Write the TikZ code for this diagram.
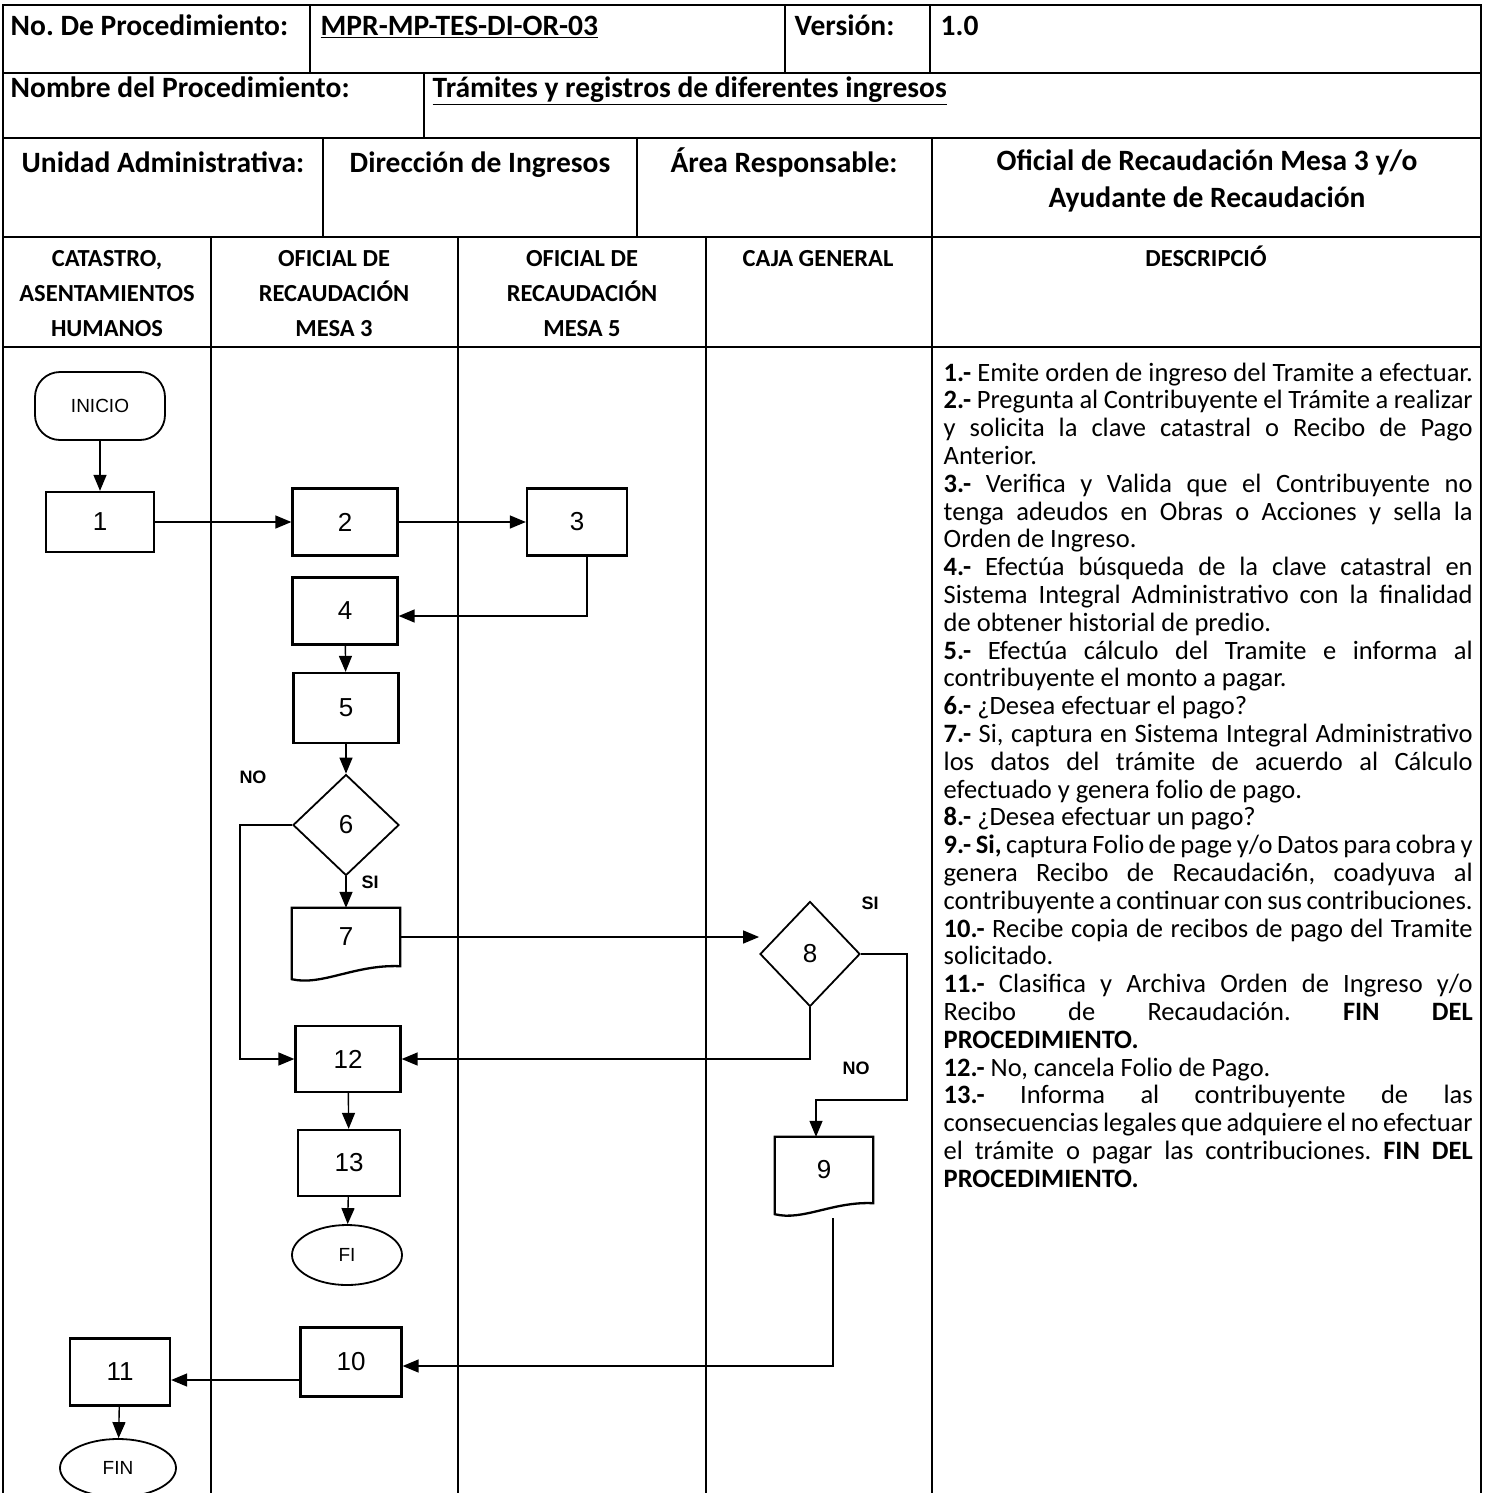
\documentclass[tikz,border=0pt]{standalone}
\usepackage{fontspec}
\setmainfont{Carlito}
\newfontfamily\arialfont{Liberation Sans}
\usetikzlibrary{arrows.meta,shapes.geometric}
\frenchspacing

\newcommand\justline[1]{\makebox[529pt][s]{#1}}
\newcommand\descspacing{\spaceskip=0.18em plus 0.4em minus 0.07em\relax}

\tikzset{every picture/.style={line width=1.4pt}}
\tikzset{
  grid/.style={line width=1.9pt},
  lane/.style={line width=1.5pt},
  hdr/.style={inner sep=0pt, font=\bfseries\fontsize{29.5}{36}\selectfont},
  lanehdr/.style={inner sep=0pt, align=center, font=\bfseries\fontsize{24.5}{35}\selectfont},
  stepbox/.style={draw, line width=2.3pt, inner sep=0pt, minimum width=105pt, minimum height=67pt, font=\arialfont\fontsize{26}{26}\selectfont},
  docbox/.style={inner sep=0pt, font=\arialfont\fontsize{26}{26}\selectfont},
  decision/.style={diamond, draw, line width=1.8pt, inner sep=0pt, font=\arialfont\fontsize{26}{26}\selectfont},
  terminal/.style={draw, line width=1.8pt, inner sep=0pt, font=\arialfont\fontsize{19}{19}\selectfont},
  flow/.style={line width=1.4pt, -{Triangle[length=16pt,width=13pt]}},
  yesno/.style={inner sep=0pt, font=\arialfont\bfseries\fontsize{18}{18}\selectfont},
  desc/.style={inner sep=0pt, align=left, font=\fontsize{26.5}{27.8}\selectfont},
}

\begin{document}
\begin{tikzpicture}[x=1pt,y=1pt,yscale=-1,xscale=1]
\useasboundingbox[fill=white] (0,0) rectangle (1486,1493);

%Shape: Table frame
\draw[grid] (3,5) rectangle (1481,1510);
%Straight Lines: rows
\draw[grid] (3,73) -- (1481,73);
\draw[grid] (3,138) -- (1481,138);
\draw[grid] (3,237) -- (1481,237);
\draw[grid] (3,347) -- (1481,347);
%Straight Lines: cell dividers
\draw[grid] (310,5) -- (310,73);
\draw[grid] (785,5) -- (785,73);
\draw[grid] (930,5) -- (930,73);
\draw[grid] (424,73) -- (424,138);
\draw[grid] (323,138) -- (323,237);
\draw[grid] (637,138) -- (637,237);
\draw[grid] (932,138) -- (932,1510);
%Straight Lines: swim lanes
\draw[lane] (211,237) -- (211,1510);
\draw[lane] (458,237) -- (458,1510);
\draw[lane] (706,237) -- (706,1510);

% Text Node
\node[hdr, anchor=base west] (procno) at (10,36) {No. De Procedimiento:};
% Text Node
\node[hdr, anchor=base west] (proccode) at (320,36) {\underline{MPR-MP-TES-DI-OR-03}};
% Text Node
\node[hdr, anchor=base west] (vers) at (794,36) {Versión:};
% Text Node
\node[hdr, anchor=base west] (versno) at (940,36) {1.0};
% Text Node
\node[hdr, anchor=base west] (procname) at (10,98) {Nombre del Procedimiento:};
% Text Node
\node[hdr, anchor=base west] (proctitle) at (432,98) {\underline{Trámites y registros de diferentes ingresos}};
% Text Node
\node[hdr, anchor=base] (unit) at (163,172) {Unidad Administrativa:};
% Text Node
\node[hdr, anchor=base] (unitname) at (480,172) {Dirección de Ingresos};
% Text Node
\node[hdr, anchor=base] (area) at (784,172) {Área Responsable:};
% Text Node
\node[hdr, anchor=base] (areaname) at (1207,170) {Oficial de Recaudación Mesa 3 y/o};
% Text Node
\node[hdr, anchor=base] (areaname2) at (1207,207) {Ayudante de Recaudación};

% Text Node: lanes
\node[lanehdr, anchor=north] (laneA) at (107,250) {CATASTRO,\\ASENTAMIENTOS\\HUMANOS};
\node[lanehdr, anchor=north] (laneB) at (334,250) {OFICIAL DE\\RECAUDACIÓN\\MESA 3};
\node[lanehdr, anchor=north] (laneC) at (582,250) {OFICIAL DE\\RECAUDACIÓN\\MESA 5};
\node[lanehdr, anchor=base] (laneD) at (818,266) {CAJA GENERAL};
\node[lanehdr, anchor=base] (laneE) at (1206,266) {DESCRIPCIÓ};

%Shape: flow steps
\node[terminal, rounded corners=25pt, minimum width=130pt, minimum height=68pt] (inicio) at (100,406) {INICIO};
\node[stepbox, minimum width=108pt, minimum height=60pt] (b1) at (100,522) {1};
\node[stepbox] (b2) at (345,522) {2};
\node[stepbox, minimum width=100pt] (b3) at (577,522) {3};
\node[stepbox] (b4) at (345,611) {4};
\node[stepbox, minimum height=70pt] (b5) at (346,708) {5};
\node[decision, minimum width=106pt, minimum height=101pt] (d6) at (346,825) {6};
\node[docbox, minimum width=107pt, minimum height=57pt] (b7) at (346,937) {7};
\node[decision, minimum width=100pt, minimum height=105pt] (d8) at (810,954) {8};
\node[docbox, minimum width=97pt, minimum height=65pt] (b9) at (824,1170) {9};
\node[stepbox, minimum width=105pt, minimum height=66pt] (b12) at (348,1059) {12};
\node[stepbox, minimum width=102pt, minimum height=66pt] (b13) at (349,1163) {13};
\node[terminal, ellipse, minimum width=110pt, minimum height=60pt] (fi) at (347,1255) {FI};
\node[stepbox, minimum width=101pt, minimum height=69pt] (b10) at (351,1362) {10};
\node[stepbox, minimum width=100pt, minimum height=67pt] (b11) at (120,1372) {11};
\node[terminal, ellipse, minimum width=116pt, minimum height=58pt] (fin) at (118,1468) {FIN};

%Shape: Document
\draw[line width=2.3pt] (b7.north west) -- (b7.north east) -- (b7.south east) .. controls ([xshift=-45pt,yshift=-2pt]b7.south east) and ([xshift=30pt,yshift=20pt]b7.south west) .. ([yshift=13pt]b7.south west) -- cycle;
%Shape: Document
\draw[line width=2.3pt] (b9.north west) -- (b9.north east) -- (b9.south east) .. controls ([xshift=-40pt,yshift=-2pt]b9.south east) and ([xshift=28pt,yshift=18pt]b9.south west) .. ([yshift=11pt]b9.south west) -- cycle;

%Straight Lines: connectors
\draw[flow] (inicio) -- (b1);
\draw[flow] (b1) -- (b2);
\draw[flow] (b2) -- (b3);
\draw[flow] ([xshift=10pt]b3.south) |- ([yshift=5pt]b4.east);
\draw[flow] (b4) -- (b5);
\draw[flow] (b5) -- (d6);
\draw[flow] (d6) -- (b7);
\draw[flow] (d6.west) -- ++(-52,0) |- (b12.west);
\draw[flow] (b7.east) -- (b7.east -| d8.west);
\draw[flow] (d8.east) -- ++(46,0) -- ++(0,146) -| ([xshift=-8pt]b9.north);
\draw[flow] (d8.south) |- (b12.east);
\draw[flow] (b12) -- (b13);
\draw[flow] (b13) -- (fi);
\draw[flow] ([xshift=9pt,yshift=15pt]b9.south) |- ([yshift=4pt]b10.east);
\draw[flow] ([yshift=18pt]b10.west) -- ([yshift=18pt]b10.west -| b11.east);
\draw[flow] (b11) -- (fin);

% Text Node: branch labels
\node[yesno] (no6) at (253,777) {NO};
\node[yesno] (si6) at (370,882) {SI};
\node[yesno] (si8) at (870,903) {SI};
\node[yesno] (no8) at (856,1068) {NO};

% Text Node: description
\node[desc, anchor=north west] (desc) at (943,362) {\descspacing
\justline{\textbf{1.-} Emite orden de ingreso del Tramite a efectuar.}\\
\justline{\textbf{2.-} Pregunta al Contribuyente el Trámite a realizar}\\
\justline{y solicita la clave catastral o Recibo de Pago}\\
Anterior.\\
\justline{\textbf{3.-} Verifica y Valida que el Contribuyente no}\\
\justline{tenga adeudos en Obras o Acciones y sella la}\\
Orden de Ingreso.\\
\justline{\textbf{4.-} Efectúa búsqueda de la clave catastral en}\\
\justline{Sistema Integral Administrativo con la finalidad}\\
de obtener historial de predio.\\
\justline{\textbf{5.-} Efectúa cálculo del Tramite e informa al}\\
contribuyente el monto a pagar.\\
\textbf{6.-} ¿Desea efectuar el pago?\\
\justline{\textbf{7.-} Si, captura en Sistema Integral Administrativo}\\
\justline{los datos del trámite de acuerdo al Cálculo}\\
efectuado y genera folio de pago.\\
\textbf{8.-} ¿Desea efectuar un pago?\\
\justline{\textbf{9.- Si,} captura Folio de page y/o Datos para cobra y}\\
\justline{genera Recibo de Recaudaci6n, coadyuva al}\\
\justline{contribuyente a continuar con sus contribuciones.}\\
\justline{\textbf{10.-} Recibe copia de recibos de pago del Tramite}\\
solicitado.\\
\justline{\textbf{11.-} Clasifica y Archiva Orden de Ingreso y/o}\\
\justline{Recibo de Recaudación. \textbf{FIN DEL}}\\
\textbf{PROCEDIMIENTO.}\\
\textbf{12.-} No, cancela Folio de Pago.\\
\justline{\textbf{13.-} Informa al contribuyente de las}\\
\justline{consecuencias legales que adquiere el no efectuar}\\
\justline{el trámite o pagar las contribuciones. \textbf{FIN DEL}}\\
\textbf{PROCEDIMIENTO.}};

\end{tikzpicture}
\end{document}
